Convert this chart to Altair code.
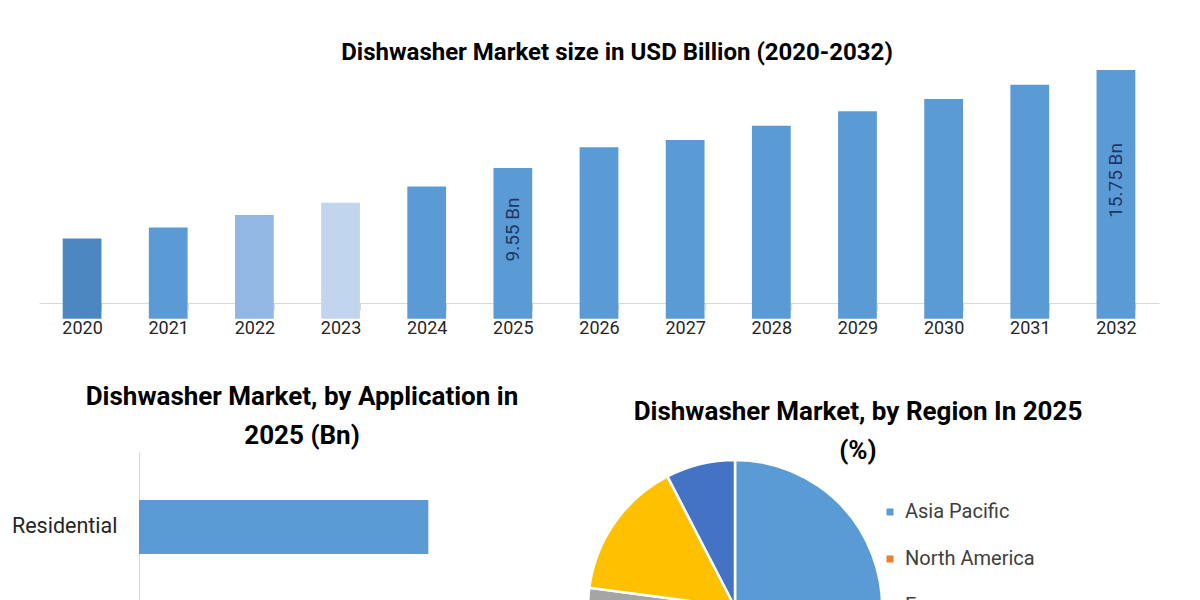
import altair as alt
import pandas as pd

# ---------------- data ----------------
years = ["2020", "2021", "2022", "2023", "2024", "2025", "2026",
         "2027", "2028", "2029", "2030", "2031", "2032"]
market_size = [5.09, 5.78, 6.57, 7.35, 8.38, 9.55, 10.85,
               11.32, 12.22, 13.13, 13.91, 14.82, 15.75]
bar_colors = ["#4c87c1", "#5b9bd5", "#93b7e3", "#c2d5ee", "#5b9bd5", "#5b9bd5", "#5b9bd5",
              "#5b9bd5", "#5b9bd5", "#5b9bd5", "#5b9bd5", "#5b9bd5", "#5b9bd5"]
value_labels = ["", "", "", "", "", "9.55 Bn", "", "", "", "", "", "", "15.75 Bn"]

applications = ["Residential", "Commercial"]
application_values = [7.1, 2.4]

regions = ["Asia Pacific", "North America", "Europe", "Middle East and Africa", "South America"]
region_shares = [38.5, 26.1, 12.5, 15.3, 7.6]
region_colors = ["#5b9bd5", "#ed7d31", "#a5a5a5", "#ffc000", "#4472c4"]

FONT = "Roboto"

# ---------------- top chart ----------------
top_df = pd.DataFrame({"year": years, "value": market_size,
                       "color": bar_colors, "label": value_labels})

x_enc = alt.X(
    "year:N", sort=years,
    scale=alt.Scale(paddingInner=0.55, paddingOuter=0.275),
    axis=alt.Axis(title=None, labelAngle=0, labelFont=FONT, labelFontSize=18,
                  labelColor="#262626", domainColor="#d9d9d9", tickColor="#d9d9d9",
                  tickBand="extent", tickSize=7, labelPadding=9),
)
y_scale = alt.Scale(domain=[1, 16], zero=False, nice=False)

bars = alt.Chart(top_df).mark_bar().encode(
    x=x_enc,
    y=alt.Y("value:Q", scale=y_scale, axis=None),
    color=alt.Color("color:N", scale=None),
)
bar_text = alt.Chart(top_df).transform_filter(
    "datum.label != ''"
).transform_calculate(
    mid="(datum.value + 1) / 2"
).mark_text(angle=270, font=FONT, fontSize=19, color="#1f3864", dx=6).encode(
    x=x_enc,
    y=alt.Y("mid:Q", scale=y_scale, axis=None),
    text="label:N",
)
top = alt.layer(bars, bar_text).properties(
    width=1120, height=237,
    title=alt.Title("Dishwasher Market size in USD Billion (2020-2032)",
                    font=FONT, fontSize=24, fontWeight="bold", color="#000000",
                    anchor="middle", frame="group", dx=18, offset=1),
)

# ---------------- bottom left ----------------
app_df = pd.DataFrame({"application": applications, "value": application_values})
left = alt.Chart(app_df).mark_bar(color="#5b9bd5").encode(
    y=alt.Y("application:N", sort=applications,
            scale=alt.Scale(paddingInner=0.64, paddingOuter=0.32),
            axis=alt.Axis(title=None, labelFont=FONT, labelFontSize=21.5,
                          labelColor="#262626", ticks=False, tickSize=0,
                          domainColor="#d9d9d9", labelPadding=22, offset=-100)),
    x=alt.X("value:Q", scale=alt.Scale(domain=[0, 8], nice=False, range=[100, 426]),
            axis=None),
).properties(
    width=426, height=300,
    title=alt.Title(["Dishwasher Market, by Application in", "2025 (Bn)"],
                    font=FONT, fontSize=26, fontWeight="bold", color="#000000",
                    lineHeight=39, anchor="middle", frame="group", dx=50, offset=3),
)

# ---------------- bottom right ----------------
region_df = pd.DataFrame({"region": regions, "share": region_shares,
                          "idx": list(range(len(regions)))})
pie = alt.Chart(region_df).mark_arc(outerRadius=147, stroke="white", strokeWidth=2.5).encode(
    theta=alt.Theta("share:Q", stack=True),
    color=alt.Color("region:N",
                    scale=alt.Scale(domain=regions, range=region_colors),
                    legend=alt.Legend(title=None, orient="none", legendX=295, legendY=50,
                                      symbolType="square", symbolSize=49,
                                      symbolStrokeWidth=0, labelLimit=400,
                                      labelFont=FONT, labelFontSize=20,
                                      labelColor="#404040", rowPadding=27,
                                      labelOffset=5, padding=0)),
    order=alt.Order("idx:Q"),
).properties(
    width=300, height=310,
    title=alt.Title(["Dishwasher Market, by Region In 2025", "(%)"],
                    font=FONT, fontSize=26, fontWeight="bold", color="#000000",
                    lineHeight=39, anchor="middle", frame="group", dx=123, offset=-12),
)

bottom = alt.hconcat(left, pie, spacing=64).resolve_scale(color="independent")

chart = alt.vconcat(top, bottom, spacing=45).resolve_scale(
    color="independent"
).properties(
    padding={"left": -8, "top": 32, "right": 0, "bottom": 0},
    background="white",
).configure_view(stroke="transparent")

chart.save("out.html", embed_options={"renderer": "svg", "actions": False})
